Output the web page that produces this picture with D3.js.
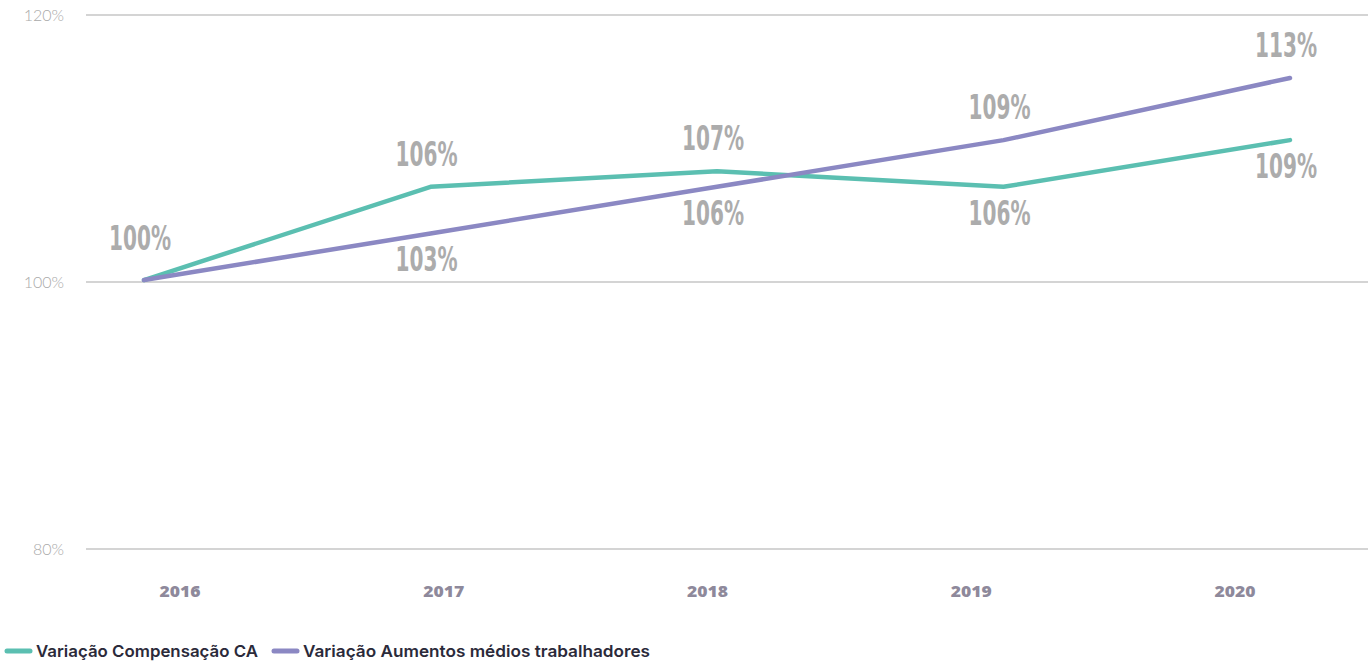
<!DOCTYPE html>
<html><head><meta charset="utf-8">
<script src="https://cdn.jsdelivr.net/npm/d3@7"></script>
<style>body{margin:0;background:#fff}svg{display:block}</style>
</head><body>
<svg id="c" width="1372" height="663"></svg>
<script>
const years = ["2016","2017","2018","2019","2020"];
const compensacaoCA = [100,106,107,106,109];
const aumentosTrab = [100,103,106,109,113];
const seriesNames = ["Variação Compensação CA","Variação Aumentos médios trabalhadores"];
const seriesColors = ["#5bbfb1","#8b88c3"];
const yTicks = [80,100,120];

const svg = d3.select("#c");
// axis scale (gridlines / tick labels)
const yAxisScale = d3.scaleLinear().domain([80,120]).range([549,15]);
// data scale for lines
const yData = d3.scaleLinear().domain([82.7,117.05]).range([549,15]);
const xPts = d3.scalePoint().domain(years).range([144,1290]);
const xLab = d3.scalePoint().domain(years).range([180,1235]);

// gridlines
const g = svg.append("g");
g.selectAll("line.grid").data(yTicks).join("line")
  .attr("x1",86).attr("x2",1368)
  .attr("y1",d=>yAxisScale(d)).attr("y2",d=>yAxisScale(d))
  .attr("stroke","#c6c6c6").attr("stroke-width",1.3);
g.selectAll("text.tick").data(yTicks).join("text")
  .attr("x",64).attr("y",d=>yAxisScale(d)+5.5)
  .attr("text-anchor","end")
  .attr("font-family","Lato, 'Open Sans', sans-serif").attr("font-weight",300)
  .attr("font-size",16).attr("fill","#a9a9a9")
  .text(d=>d+"%");

// x labels
svg.selectAll("text.xl").data(years).join("text")
  .attr("x",d=>xLab(d)).attr("y",597)
  .attr("text-anchor","middle")
  .attr("font-family","'Open Sans', sans-serif").attr("font-weight",800)
  .attr("font-size",16).attr("fill","#8e899b")
  .attr("textLength",41).attr("lengthAdjust","spacingAndGlyphs")
  .text(d=>d);

const series = [compensacaoCA, aumentosTrab];
const line = d3.line().x((d,i)=>xPts(years[i])).y(d=>yData(d));
series.forEach((s,k)=>{
  svg.append("path").datum(s).attr("d",line)
    .attr("fill","none").attr("stroke",seriesColors[k]).attr("stroke-width",4.5)
    .attr("stroke-linejoin","round").attr("stroke-linecap","round");
});

// data labels
const labels = [];
years.forEach((y,i)=>{
  const a = compensacaoCA[i], b = aumentosTrab[i];
  if(i===0){ labels.push({x:xPts(y)-4, y:yData(a)-30, t:a}); return; }
  const hi = Math.max(a,b), lo = Math.min(a,b);
  labels.push({x:xPts(y)-4, y:yData(hi)-21, t:hi});
  labels.push({x:xPts(y)-4, y:yData(lo)+38, t:lo});
});
svg.selectAll("text.dl").data(labels).join("text")
  .attr("x",d=>d.x).attr("y",d=>d.y)
  .attr("text-anchor","middle")
  .attr("font-family","'Liberation Sans Narrow','DejaVu Sans Condensed',sans-serif")
  .attr("font-weight",700).attr("font-size",33).attr("fill","#acacac")
  .attr("textLength",62).attr("lengthAdjust","spacingAndGlyphs")
  .text(d=>d.t+"%");

// legend
const leg = svg.append("g");
const legX = [5,272];
const legW = [222,347];
seriesNames.forEach((n,k)=>{
  leg.append("line").attr("x1",legX[k]+2).attr("x2",legX[k]+25)
    .attr("y1",651).attr("y2",651)
    .attr("stroke",seriesColors[k]).attr("stroke-width",5).attr("stroke-linecap","round");
  leg.append("text").attr("x",legX[k]+31).attr("y",657)
    .attr("font-family","Inter, 'Open Sans', sans-serif").attr("font-weight",600)
    .attr("font-size",16.5).attr("fill","#2b2a3a")
    .attr("textLength",legW[k]).attr("lengthAdjust","spacingAndGlyphs")
    .text(n);
});
</script>
</body></html>
